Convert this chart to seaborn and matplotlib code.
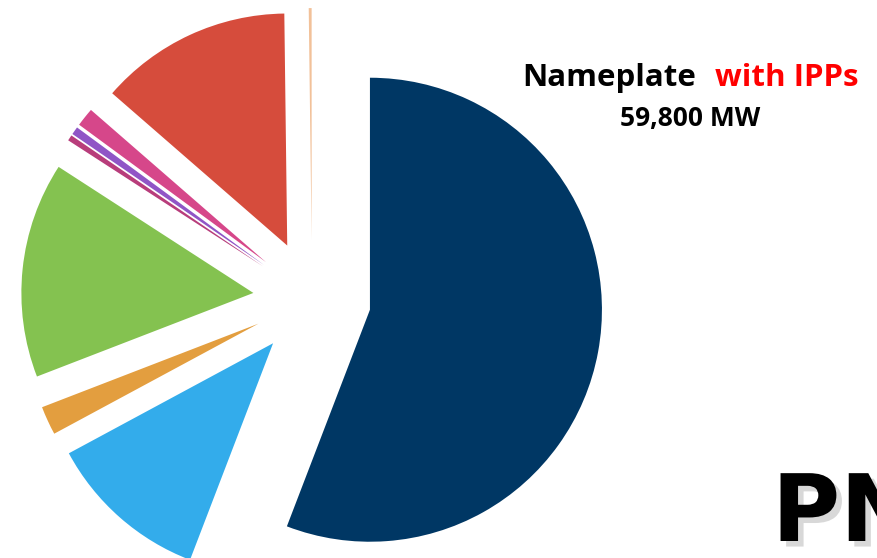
import matplotlib
matplotlib.use("Agg")
import matplotlib.pyplot as plt
import matplotlib.patheffects as pe
import seaborn as sns

# Nameplate capacity shares (%), clockwise from 12 o'clock
categories = ["Gas", "Coal", "Oil", "Hydro", "Bagasse", "Biomass",
              "Solar", "Wind", "Other"]
shares = [55.8, 11.3, 2.0, 15.0, 0.4, 0.55, 1.3, 13.4, 0.2]
colors = ["#003764", "#33ACEB", "#E39E3F", "#84C250", "#B83D7B",
          "#9055C6", "#D6478A", "#D64C3C", "#F2C199"]

title_black = "Nameplate"
title_red = "with IPPs"
subtitle = "59,800 MW"
logo = "PN"

sns.set_theme(style="white")
plt.rcParams["font.family"] = ["Open Sans", "DejaVu Sans"]

W, H = 877, 558
fig = plt.figure(figsize=(W / 100, H / 100), dpi=100)
fig.patch.set_facecolor("white")
ax = fig.add_axes([0, 0, 1, 1])

ax.pie(shares, colors=colors, startangle=90, counterclock=False,
       explode=[0.254] * len(shares), radius=1.0,
       wedgeprops=dict(linewidth=0, antialiased=True))

# pixel scale: one pie radius = 232 px, centre at (312, 299) from top-left
r_px, cx, cy = 232.0, 312.0, 299.0
ax.set_aspect("auto")
ax.set_xlim(-cx / r_px, (W - cx) / r_px)
ax.set_ylim(-(H - cy) / r_px, cy / r_px)
ax.axis("off")

def fx(x):
    return x / W

def fy(y):
    return 1 - y / H

fig.text(fx(522), fy(86), title_black, color="black", fontsize=22.5,
         fontweight="bold", ha="left", va="baseline")
fig.text(fx(859), fy(86), title_red, color="#FF0000", fontsize=22.5,
         fontweight="bold", ha="right", va="baseline")
fig.text(fx(690), fy(126), subtitle, color="black", fontsize=19,
         fontweight="bold", ha="center", va="baseline")

fig.text(fx(772), fy(541), logo, color="black", fontsize=67,
         fontweight="heavy", family=["DejaVu Sans"], ha="left",
         va="baseline",
         path_effects=[pe.SimplePatchShadow(offset=(4, -4), alpha=0.3,
                                            shadow_rgbFace="gray"),
                       pe.Normal()])

fig.savefig("out.png", dpi=100, facecolor="white")
